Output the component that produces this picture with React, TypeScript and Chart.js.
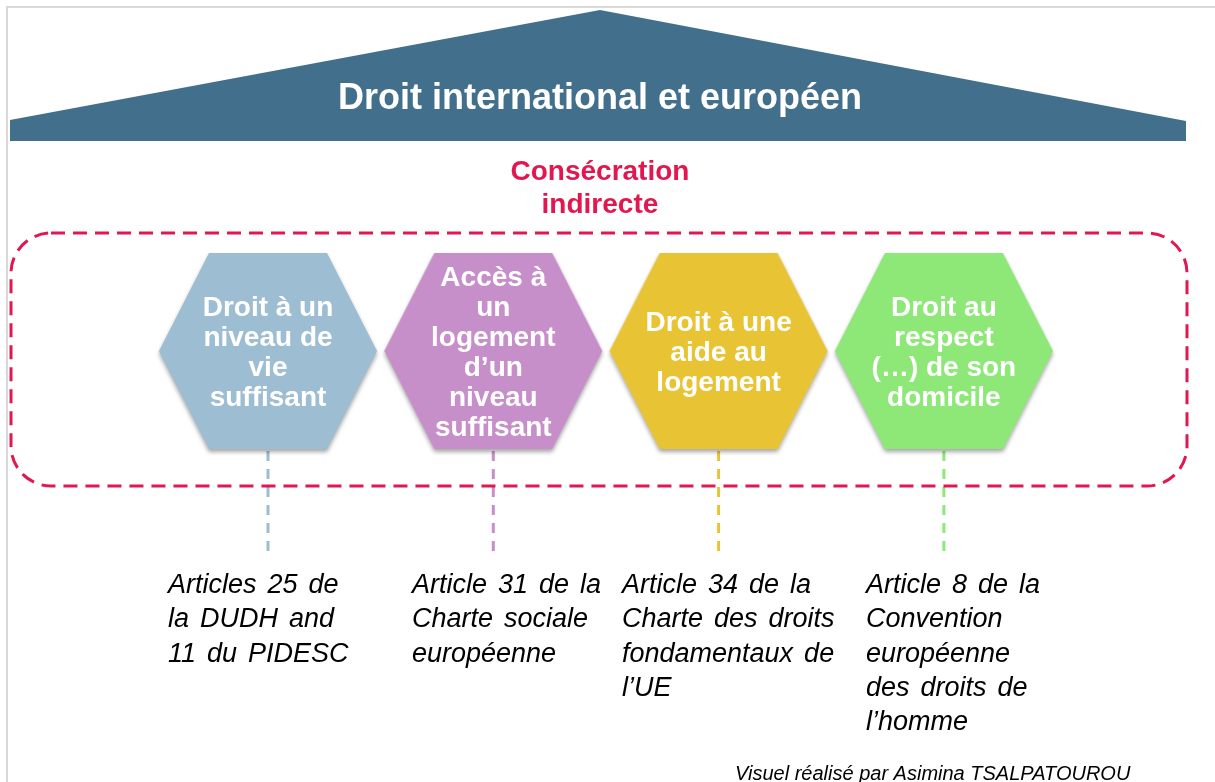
import React, { useEffect, useRef } from "react";
import { Chart, registerables } from "chart.js";

Chart.register(...registerables);

// ---------- content ----------
const TITLE = "Droit international et européen";
const SUBTITLE_LINES = ["Consécration", "indirecte"];
const PILLAR_INDEX = [0, 1, 2, 3];
const PILLAR_LABELS: string[][] = [
  ["Droit à un", "niveau de", "vie", "suffisant"],
  ["Accès à", "un", "logement", "d’un", "niveau", "suffisant"],
  ["Droit à une", "aide au", "logement"],
  ["Droit au", "respect", "(…) de son", "domicile"],
];
const PILLAR_COLORS = ["#9dbdd3", "#c78fc9", "#e8c434", "#8ee878"];
const SOURCES: string[][] = [
  ["Articles 25 de", "la DUDH and", "11 du PIDESC"],
  ["Article 31 de la", "Charte sociale", "européenne"],
  ["Article 34 de la", "Charte des droits", "fondamentaux de", "l’UE"],
  ["Article 8 de la", "Convention", "européenne", "des droits de", "l’homme"],
];
const CREDIT = "Visuel réalisé par Asimina TSALPATOUROU";

// ---------- layout ----------
const W = 1215;
const H = 782;
const X_MIN = -1.1895;
const X_MAX = 4.2033;
const HEX_LEVEL = 351;
const HEX_W = 218;
const HEX_H = 196;
const HEX_INSET = 50;
const HEX_LH = 30;
const LINK_TOP = HEX_LEVEL + HEX_H / 2 + 2;
const LINK_BOTTOM = 557;
const SOURCE_X = [168, 412, 622, 866];
const SOURCE_BASE = 593;
const SOURCE_LH = 34.3;
const RED = "#e2174f";
const ROOF = "#416f8c";
const FONT = "'Liberation Sans', Arial, sans-serif";

function makeHex(color: string): HTMLCanvasElement {
  const pad = 14;
  const c = document.createElement("canvas");
  c.width = HEX_W + pad * 2;
  c.height = HEX_H + pad * 2;
  const g = c.getContext("2d")!;
  g.save();
  g.shadowColor = "rgba(0,0,0,0.35)";
  g.shadowBlur = 4;
  g.shadowOffsetY = 3;
  g.beginPath();
  const l = pad, t = pad, r = pad + HEX_W, b = pad + HEX_H, m = pad + HEX_H / 2;
  g.moveTo(l + HEX_INSET, t);
  g.lineTo(r - HEX_INSET, t);
  g.lineTo(r, m);
  g.lineTo(r - HEX_INSET, b);
  g.lineTo(l + HEX_INSET, b);
  g.lineTo(l, m);
  g.closePath();
  g.fillStyle = color;
  g.fill();
  g.restore();
  return c;
}

const diagramPlugin = {
  id: "diagram",
  beforeDatasetsDraw(chart: any) {
    const ctx: CanvasRenderingContext2D = chart.ctx;
    const xs = chart.scales.x;
    const ys = chart.scales.y;
    ctx.save();
    ctx.fillStyle = "#ffffff";
    ctx.fillRect(0, 0, W, H);
    // frame
    ctx.strokeStyle = "#d9d9d9";
    ctx.lineWidth = 2;
    ctx.beginPath();
    ctx.moveTo(7, H);
    ctx.lineTo(7, 7);
    ctx.lineTo(W, 7);
    ctx.stroke();
    // roof
    ctx.fillStyle = ROOF;
    ctx.beginPath();
    ctx.moveTo(10, ys.getPixelForValue(141));
    ctx.lineTo(10, ys.getPixelForValue(120));
    ctx.lineTo(600, ys.getPixelForValue(10));
    ctx.lineTo(1186, ys.getPixelForValue(121));
    ctx.lineTo(1186, ys.getPixelForValue(141));
    ctx.closePath();
    ctx.fill();
    const cx = (xs.getPixelForValue(1) + xs.getPixelForValue(2)) / 2 - 6;
    ctx.fillStyle = "#ffffff";
    ctx.font = `bold 36px ${FONT}`;
    ctx.textAlign = "center";
    ctx.textBaseline = "alphabetic";
    ctx.fillText(TITLE, cx, ys.getPixelForValue(109));
    ctx.fillStyle = RED;
    ctx.font = `bold 28px ${FONT}`;
    SUBTITLE_LINES.forEach((s, i) => ctx.fillText(s, cx, ys.getPixelForValue(180 + i * 33)));
    ctx.restore();
  },
  afterDatasetsDraw(chart: any) {
    const ctx: CanvasRenderingContext2D = chart.ctx;
    const ys = chart.scales.y;
    ctx.save();
    // dashed rounded frame
    ctx.strokeStyle = RED;
    ctx.lineWidth = 3;
    ctx.setLineDash([14, 8]);
    ctx.beginPath();
    (ctx as any).roundRect(11, ys.getPixelForValue(233), 1176, 253, 40);
    ctx.stroke();
    ctx.setLineDash([]);
    // hex labels
    const meta = chart.getDatasetMeta(0);
    ctx.fillStyle = "#ffffff";
    ctx.font = `bold 28px ${FONT}`;
    ctx.textAlign = "center";
    ctx.textBaseline = "alphabetic";
    meta.data.forEach((pt: any, i: number) => {
      const lines = PILLAR_LABELS[i];
      const n = lines.length;
      lines.forEach((s, k) => {
        ctx.fillText(s, pt.x, pt.y + (k - (n - 1) / 2) * HEX_LH + 10);
      });
    });
    // sources
    ctx.fillStyle = "#000000";
    ctx.font = `italic 27px ${FONT}`;
    ctx.textAlign = "left";
    (ctx as any).wordSpacing = "3.5px";
    SOURCES.forEach((lines, i) => {
      lines.forEach((s, k) => ctx.fillText(s, SOURCE_X[i], ys.getPixelForValue(SOURCE_BASE + k * SOURCE_LH)));
    });
    (ctx as any).wordSpacing = "0px";
    ctx.font = `italic 20px ${FONT}`;
    ctx.fillText(CREDIT, 735, ys.getPixelForValue(780));
    ctx.restore();
  },
};

export default function App() {
  const ref = useRef<HTMLCanvasElement | null>(null);
  useEffect(() => {
    document.body.style.margin = "0";
    const canvas = ref.current!;
    const hexImages = PILLAR_COLORS.map(makeHex);
    const linkSets = PILLAR_INDEX.map((i) => ({
      type: "line" as const,
      data: [
        { x: i, y: LINK_TOP },
        { x: i, y: LINK_BOTTOM },
      ],
      borderColor: PILLAR_COLORS[i],
      borderWidth: 3,
      borderDash: [10, 8],
      pointRadius: 0,
      showLine: true,
      fill: false,
      order: 2,
    }));
    const chart = new Chart(canvas, {
      type: "scatter",
      data: {
        datasets: [
          {
            data: PILLAR_INDEX.map((i) => ({ x: i, y: HEX_LEVEL })),
            pointStyle: (c: any) => hexImages[c.dataIndex],
            pointRadius: 10,
            order: 0,
          } as any,
          ...linkSets,
        ],
      },
      options: {
        animation: false,
        responsive: false,
        devicePixelRatio: 1,
        layout: { padding: 0, autoPadding: false },
        events: [],
        plugins: { legend: { display: false }, tooltip: { enabled: false } },
        scales: {
          x: { type: "linear", min: X_MIN, max: X_MAX, display: false },
          y: { type: "linear", min: 0, max: H, reverse: true, display: false },
        },
      },
      plugins: [diagramPlugin],
    });
    return () => chart.destroy();
  }, []);
  return (
    <div style={{ width: W, height: H }}>
      <canvas ref={ref} width={W} height={H} style={{ display: "block" }} />
    </div>
  );
}
